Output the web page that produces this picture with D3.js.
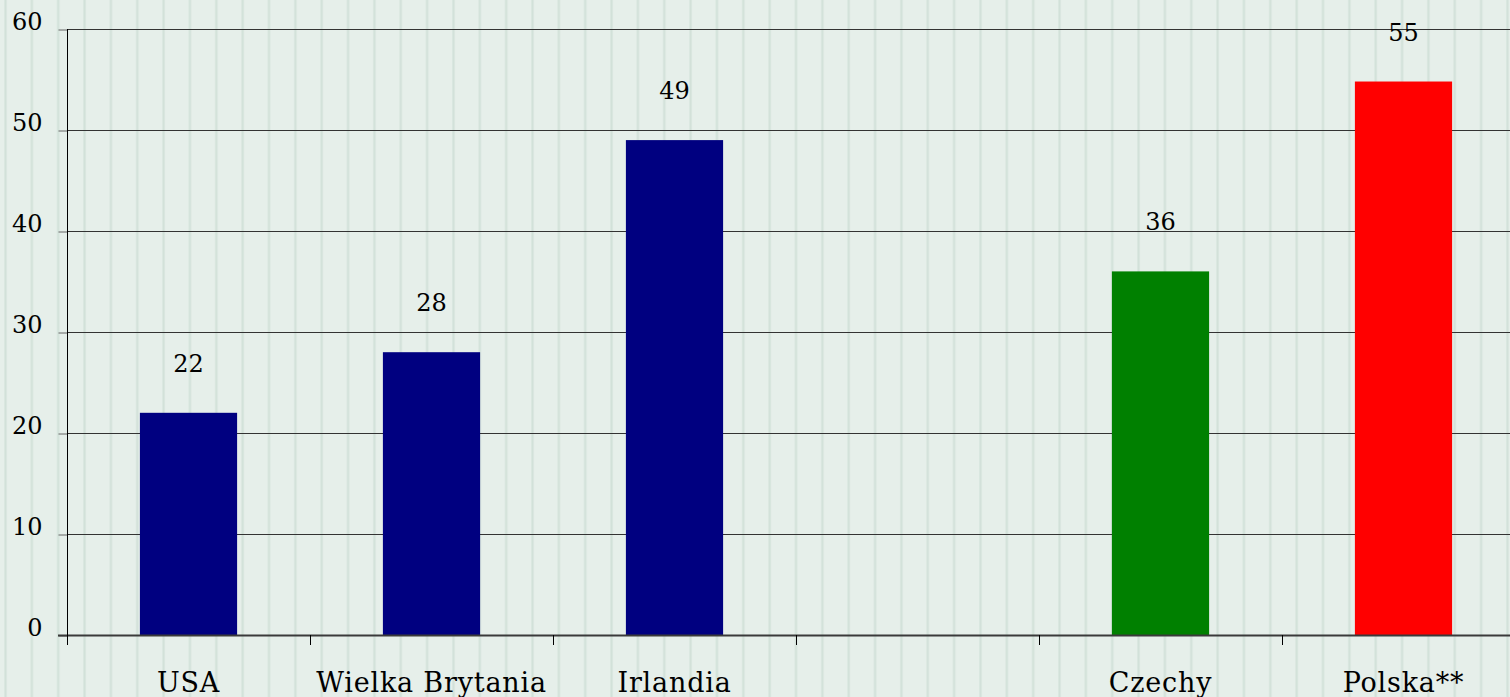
<!DOCTYPE html>
<html>
<head>
<meta charset="utf-8">
<script src="https://cdn.jsdelivr.net/npm/d3@7"></script>
<style>
  body { margin: 0; padding: 0; overflow: hidden; background: #e6efea; }
  svg { display: block; }
</style>
</head>
<body>
<div id="plot"></div>
<script>
//Set Height and Width Vars;
const w = 1510;
const h = 697;

//Data;
const categories = ["USA", "Wielka Brytania", "Irlandia", "", "Czechy", "Polska**"];
const values = [22, 28, 49, null, 36, 54.8];
const valueLabels = ["22", "28", "49", "", "36", "55"];
const barColors = ["#000080", "#000080", "#000080", null, "#008000", "#ff0000"];
const yTicks = [0, 10, 20, 30, 40, 50, 60];

//Plot bounds;
const plotLeft = 67;
const plotTop = 29;
const plotBottom = 635;
const step = 243;

//Initialize SVG;
const svg = d3.select("#plot")
  .append("svg")
    .attr("width", w)
    .attr("height", h);

//Striped background;
const defs = svg.append("defs");
const pat = defs.append("pattern")
  .attr("id", "stripes")
  .attr("patternUnits", "userSpaceOnUse")
  .attr("x", 4)
  .attr("width", 26.35)
  .attr("height", 10);
pat.append("rect").attr("width", 26.35).attr("height", 10).attr("fill", "#e6efea");
pat.append("rect").attr("x", 0).attr("width", 3).attr("height", 10).attr("fill", "#dae7e0");
pat.append("rect").attr("x", 1).attr("width", 1).attr("height", 10).attr("fill", "#d2e1d9");

svg.append("rect")
  .attr("width", w)
  .attr("height", h)
  .attr("fill", "url(#stripes)");

//Scales;
const xScale = d3.scaleBand()
  .domain(categories)
  .range([plotLeft, plotLeft + step * categories.length])
  .paddingInner(0.6)
  .paddingOuter(0.3);

const yScale = d3.scaleLinear()
  .domain([0, 60])
  .range([plotBottom, plotTop]);

//Gridlines;
svg.append("g")
  .selectAll("line")
  .data(yTicks.filter(d => d > 0))
  .enter()
  .append("line")
    .attr("x1", plotLeft)
    .attr("x2", w)
    .attr("y1", d => yScale(d) + 0.5)
    .attr("y2", d => yScale(d) + 0.5)
    .attr("stroke", "#333")
    .attr("stroke-width", 1);

//Y Axis;
const yAxis = d3.axisLeft(yScale)
  .tickValues(yTicks)
  .tickSize(9)
  .tickPadding(16)
  .tickSizeOuter(0);

const gy = svg.append("g")
  .attr("transform", "translate(" + (plotLeft + 0.5) + ",0)")
  .call(yAxis);
gy.select(".domain").remove();
gy.selectAll(".tick line")
  .attr("stroke", "#666")
  .attr("transform", "translate(0,0.5)");
gy.selectAll(".tick text")
  .attr("font-family", "DejaVu Serif")
  .attr("font-size", "24px")
  .attr("fill", "#000")
  .attr("dy", "0.02em");

//Bars;
const bars = categories.map((c, i) => ({cat: c, value: values[i], label: valueLabels[i], color: barColors[i]}))
  .filter(d => d.value !== null);

svg.append("g")
  .selectAll("rect")
  .data(bars)
  .enter()
  .append("rect")
    .attr("x", d => xScale(d.cat))
    .attr("y", d => yScale(d.value))
    .attr("width", xScale.bandwidth())
    .attr("height", d => yScale(0) - yScale(d.value))
    .attr("fill", d => d.color);

//Value labels;
svg.append("g")
  .selectAll("text")
  .data(bars)
  .enter()
  .append("text")
    .text(d => d.label)
    .attr("x", d => xScale(d.cat) + xScale.bandwidth() / 2)
    .attr("y", d => yScale(d.value) - 41)
    .attr("text-anchor", "middle")
    .attr("font-family", "DejaVu Serif")
    .attr("font-size", "24px")
    .attr("fill", "#000");

//X Axis line;
svg.append("line")
  .attr("x1", plotLeft - 9)
  .attr("x2", w)
  .attr("y1", plotBottom + 0.5)
  .attr("y2", plotBottom + 0.5)
  .attr("stroke", "#3a3a3a")
  .attr("stroke-width", 2);

//Y Axis line;
svg.append("line")
  .attr("x1", plotLeft + 0.5)
  .attr("x2", plotLeft + 0.5)
  .attr("y1", plotTop)
  .attr("y2", plotBottom + 10)
  .attr("stroke", "#000")
  .attr("stroke-width", 1);

//Category ticks;
const boundaries = d3.range(categories.length + 1).map(i => plotLeft + i * xScale.step());
svg.append("g")
  .selectAll("line")
  .data(boundaries)
  .enter()
  .append("line")
    .attr("x1", d => d + 0.5)
    .attr("x2", d => d + 0.5)
    .attr("y1", plotBottom)
    .attr("y2", plotBottom + 10)
    .attr("stroke", "#000");

//Category labels;
svg.append("g")
  .selectAll("text")
  .data(categories)
  .enter()
  .append("text")
    .text(d => d)
    .attr("x", d => xScale(d) + xScale.bandwidth() / 2)
    .attr("y", 692)
    .attr("text-anchor", "middle")
    .attr("font-family", "DejaVu Serif")
    .attr("font-size", "27px")
    .attr("letter-spacing", "0.8px")
    .attr("fill", "#000");
</script>
</body>
</html>
